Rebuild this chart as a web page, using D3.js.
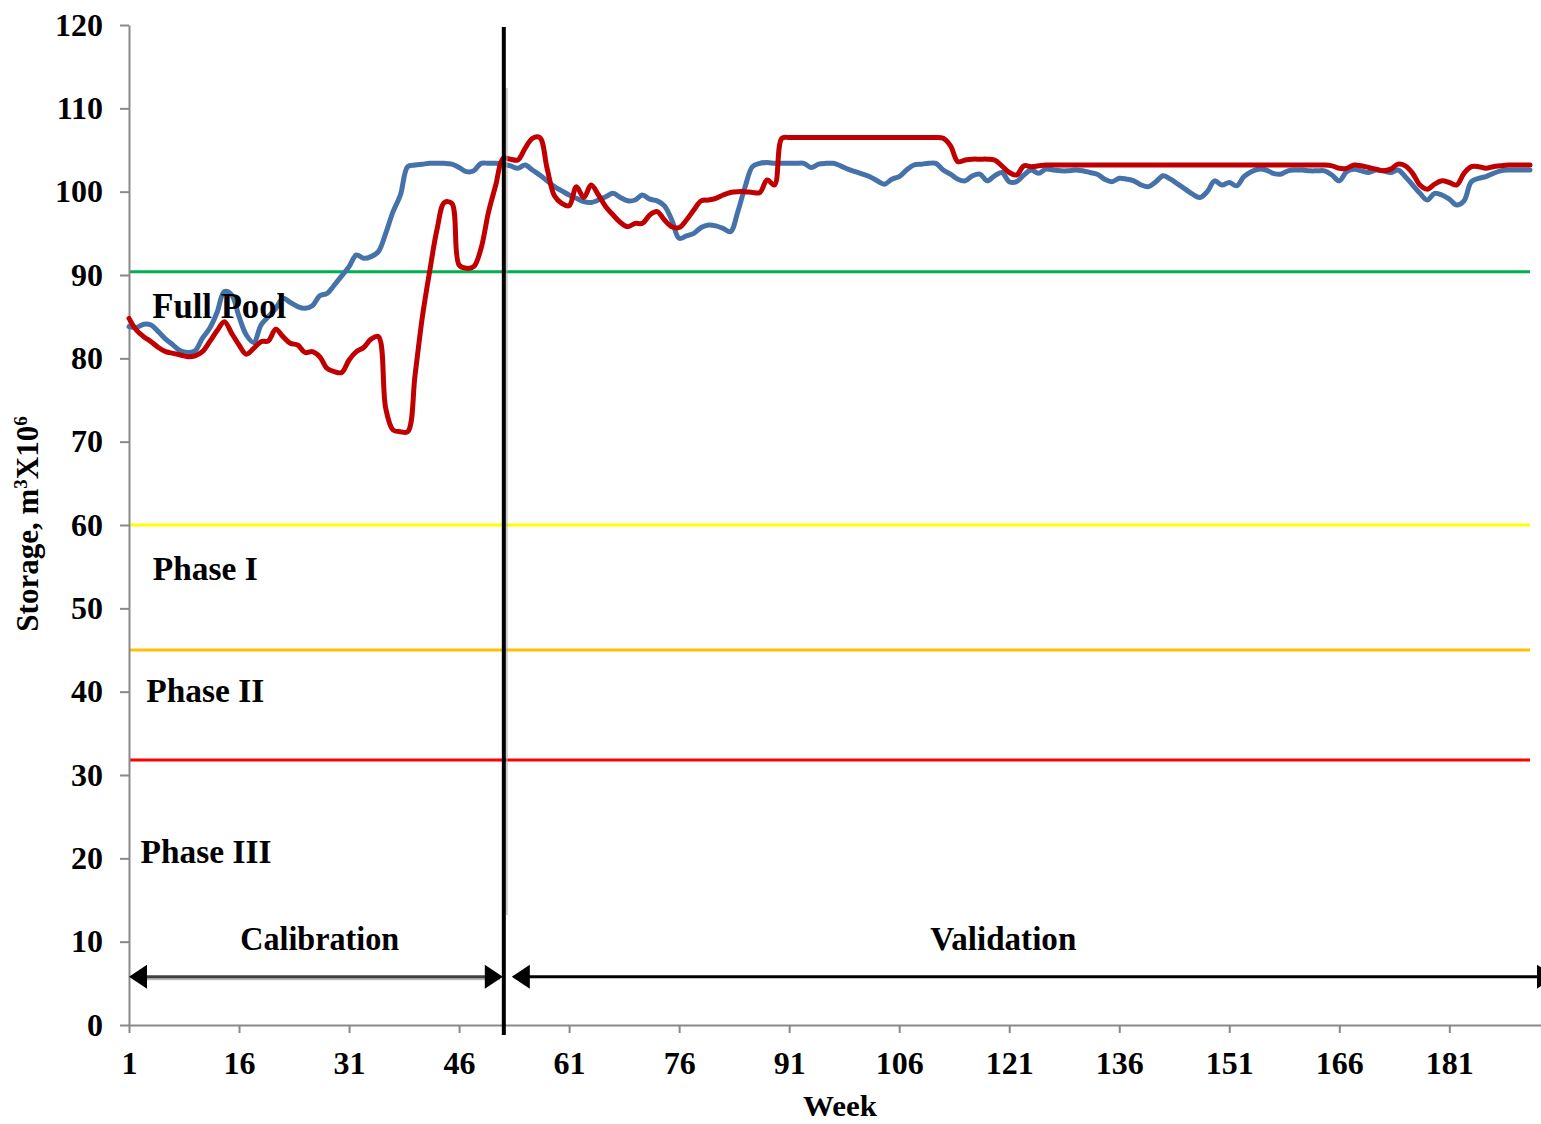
<!DOCTYPE html>
<html>
<head>
<meta charset="utf-8">
<title>Storage: calibration and validation</title>
<script src="https://d3js.org/d3.v7.min.js"></script>
<style>
  body { margin: 0; background: #fff; }
  svg { display: block; font-family: "Liberation Serif", "Times New Roman", serif; font-weight: bold; }
  .axis path, .axis line { stroke: #898989; stroke-width: 2; }
  .axis text { font-size: 32px; font-family: "Liberation Serif", "Times New Roman", serif; font-weight: bold; fill: #000; }
  .series { fill: none; stroke-width: 5; stroke-linejoin: round; stroke-linecap: round; }
</style>
</head>
<body>
<svg></svg>
<script>

// weekly storage (m3 x 10^6), weeks 1..192
var observed = [
  83.8, 83.7, 84.1, 84.0, 83.2, 82.3, 81.6, 80.9, 80.7, 80.9,
  82.4, 83.6, 85.5, 88.0, 87.6, 85.0, 82.8, 81.9, 84.0, 85.0,
  86.0, 87.2, 86.7, 86.2, 86.0, 86.3, 87.5, 87.8, 88.8, 89.9,
  91.0, 92.4, 92.0, 92.2, 92.8, 95.0, 97.6, 99.6, 103.0, 103.2,
  103.3, 103.4, 103.4, 103.4, 103.3, 102.9, 102.4, 102.5, 103.4, 103.4,
  103.4, 103.3, 103.1, 102.8, 103.2, 102.6, 102.0, 101.3, 100.6, 100.1,
  99.6, 99.2, 98.8, 98.7, 99.0, 99.4, 99.8, 99.3, 98.9, 99.0,
  99.6, 99.1, 98.9, 98.3, 96.6, 94.4, 94.7, 95.0, 95.7, 96.0,
  95.9, 95.6, 95.2, 97.6, 100.6, 103.0, 103.4, 103.5, 103.4, 103.4,
  103.4, 103.4, 103.4, 102.9, 103.3, 103.4, 103.4, 103.1, 102.7, 102.4,
  102.1, 101.8, 101.3, 100.9, 101.5, 101.8, 102.6, 103.2, 103.3, 103.4,
  103.4, 102.6, 102.1, 101.5, 101.3, 101.9, 102.1, 101.3, 101.9, 102.3,
  101.2, 101.2, 102.0, 102.6, 102.2, 102.7, 102.6, 102.5, 102.5, 102.6,
  102.5, 102.3, 102.1, 101.5, 101.2, 101.6, 101.5, 101.3, 100.8, 100.6,
  101.2, 101.9, 101.5, 100.9, 100.3, 99.7, 99.3, 100.0, 101.3, 100.8,
  101.1, 100.7, 101.8, 102.4, 102.7, 102.6, 102.2, 102.1, 102.5, 102.6,
  102.6, 102.5, 102.5, 102.5, 102.0, 101.3, 102.4, 102.7, 102.5, 102.3,
  102.6, 102.5, 102.3, 102.6, 101.8, 100.8, 99.8, 99.0, 99.8, 99.6,
  99.1, 98.4, 98.9, 101.2, 101.6, 101.8, 102.2, 102.5, 102.6, 102.6,
  102.6, 102.6
];

var simulated = [
  84.8, 83.4, 82.6, 82.0, 81.3, 80.8, 80.6, 80.4, 80.2, 80.3,
  80.8, 82.0, 83.3, 84.4, 83.0, 81.6, 80.5, 81.2, 82.0, 82.1,
  83.5, 82.6, 81.8, 81.6, 80.7, 80.8, 80.2, 78.8, 78.4, 78.3,
  79.8, 80.8, 81.3, 82.3, 82.6, 74.0, 71.4, 71.2, 71.2, 78.0,
  85.0, 90.5, 95.5, 98.7, 98.6, 91.2, 90.8, 91.0, 93.2, 97.5,
  100.8, 104.0, 103.9, 103.8, 105.2, 106.4, 106.5, 102.8, 99.5, 98.6,
  98.3, 100.6, 99.3, 100.8, 99.6, 98.2, 97.2, 96.3, 95.8, 96.2,
  96.2, 97.2, 97.6, 96.6, 95.8, 95.7, 96.6, 97.8, 98.9, 99.0,
  99.2, 99.6, 99.9, 100.0, 100.0, 99.9, 99.9, 101.4, 100.8, 106.4,
  106.5, 106.5, 106.5, 106.5, 106.5, 106.5, 106.5, 106.5, 106.5, 106.5,
  106.5, 106.5, 106.5, 106.5, 106.5, 106.5, 106.5, 106.5, 106.5, 106.5,
  106.5, 106.4, 105.5, 103.6, 103.8, 103.9, 103.9, 103.9, 103.8, 103.1,
  102.3, 102.0, 103.1, 103.0, 103.1, 103.2, 103.2, 103.2, 103.2, 103.2,
  103.2, 103.2, 103.2, 103.2, 103.2, 103.2, 103.2, 103.2, 103.2, 103.2,
  103.2, 103.2, 103.2, 103.2, 103.2, 103.2, 103.2, 103.2, 103.2, 103.2,
  103.2, 103.2, 103.2, 103.2, 103.2, 103.2, 103.2, 103.2, 103.2, 103.2,
  103.2, 103.2, 103.2, 103.2, 103.1, 102.8, 102.8, 103.2, 103.1, 102.9,
  102.7, 102.5, 102.7, 103.3, 103.1, 102.2, 100.8, 100.3, 100.9, 101.3,
  101.1, 100.8, 102.2, 103.0, 103.0, 102.8, 103.0, 103.1, 103.2, 103.2,
  103.2, 103.2
];

var weekTicks = [1, 16, 31, 46, 61, 76, 91, 106, 121, 136, 151, 166, 181];
var storageTicks = [0, 10, 20, 30, 40, 50, 60, 70, 80, 90, 100, 110, 120];

// rule curve levels and their labels
var zoneNames = ["Full Pool", "Phase I", "Phase II", "Phase III"];
var zoneLevels = [90.4, 60, 45, 31.8];
var zoneColors = ["#00B050", "#FFFF00", "#FFC000", "#FF0000"];

var periodNames = ["Calibration", "Validation"];
var splitWeek = 52.1;

var width = 1541, height = 1124;
var svg = d3.select("svg").attr("width", width).attr("height", height);

var x = d3.scaleLinear().domain([1, 193.5]).range([129, 1541]);
var y = d3.scaleLinear().domain([0, 120]).range([1025, 25]);

var weeks = observed.map(function(d, i) { return i + 1; });
var lastWeek = weeks[weeks.length - 1];

// threshold lines
svg.append("g").selectAll("line")
  .data(zoneLevels)
  .enter().append("line")
    .attr("x1", x(1)).attr("x2", x(lastWeek))
    .attr("y1", function(d) { return y(d); })
    .attr("y2", function(d) { return y(d); })
    .attr("stroke", function(d, i) { return zoneColors[i]; })
    .attr("stroke-width", 3);

// axes
svg.append("g")
  .attr("class", "axis")
  .attr("transform", "translate(" + x(1) + ",0)")
  .call(d3.axisLeft(y).tickValues(storageTicks).tickSize(9).tickSizeOuter(0).tickPadding(17));

svg.append("g")
  .attr("class", "axis")
  .attr("transform", "translate(0," + y(0) + ")")
  .call(d3.axisBottom(x).tickValues(weekTicks).tickFormat(d3.format("d")).tickSize(8).tickSizeOuter(0).tickPadding(18));

// series
var line = d3.line()
  .x(function(d) { return x(d[0]); })
  .y(function(d) { return y(d[1]); })
  .curve(d3.curveCatmullRom.alpha(0.5));

svg.append("path")
  .attr("class", "series")
  .attr("stroke", "#4672AA")
  .attr("d", line(d3.zip(weeks, observed)));

svg.append("path")
  .attr("class", "series")
  .attr("stroke", "#C00000")
  .attr("d", line(d3.zip(weeks, simulated)));

// split between calibration and validation
var sx = x(splitWeek);
svg.append("line")
  .attr("x1", sx + 3).attr("x2", sx + 3)
  .attr("y1", 88).attr("y2", 915)
  .attr("stroke", "#aaa").attr("stroke-width", 2).attr("opacity", 0.6);
svg.append("line")
  .attr("x1", sx).attr("x2", sx)
  .attr("y1", 27).attr("y2", 1035)
  .attr("stroke", "#000").attr("stroke-width", 4);

// period arrows
var ay = y(5.8);
function arrowHead(tipX, dir) {
  var b = tipX + dir * 18;
  svg.append("path")
    .attr("d", "M" + tipX + "," + ay + "L" + b + "," + (ay - 12) + "L" + b + "," + (ay + 12) + "Z")
    .attr("fill", "#000");
}
svg.append("line")
  .attr("x1", x(1) + 4).attr("x2", sx - 4)
  .attr("y1", ay + 2).attr("y2", ay + 2)
  .attr("stroke", "#bbb").attr("stroke-width", 3);
svg.append("line")
  .attr("x1", x(1) + 4).attr("x2", sx - 4)
  .attr("y1", ay).attr("y2", ay)
  .attr("stroke", "#404040").attr("stroke-width", 3);
arrowHead(x(1), 1);
arrowHead(sx - 1, -1);

svg.append("line")
  .attr("x1", sx + 10).attr("x2", width)
  .attr("y1", ay).attr("y2", ay)
  .attr("stroke", "#000").attr("stroke-width", 3);
arrowHead(sx + 8, 1);
arrowHead(width + 14, -1);

// text labels
function label(txt, cx, cy, w, size) {
  svg.append("text")
    .attr("x", cx).attr("y", cy)
    .attr("text-anchor", "middle")
    .attr("dy", "0.35em")
    .attr("font-size", size)
    .attr("textLength", w)
    .attr("lengthAdjust", "spacingAndGlyphs")
    .text(txt);
}
label(zoneNames[0], x(13.3), y(86.3), 134, 36);
label(zoneNames[1], x(11.4), y(54.8), 105, 34);
label(zoneNames[2], x(11.4), y(40.2), 118, 34);
label(zoneNames[3], x(11.5), y(20.9), 131, 34);
label(periodNames[0], x(27), y(10.4), 159, 34);
label(periodNames[1], x(120.2), y(10.4), 146, 34);

label("Week", 840, 1105, 74, 30);

var yt = svg.append("text")
  .attr("transform", "translate(38,524) rotate(-90)")
  .attr("text-anchor", "middle")
  .attr("font-size", 31);
yt.append("tspan").text("Storage, m");
yt.append("tspan").attr("font-size", 19).attr("dy", -11).text("3");
yt.append("tspan").attr("dy", 11).text("X10");
yt.append("tspan").attr("font-size", 19).attr("dy", -11).text("6");

</script>
</body>
</html>
